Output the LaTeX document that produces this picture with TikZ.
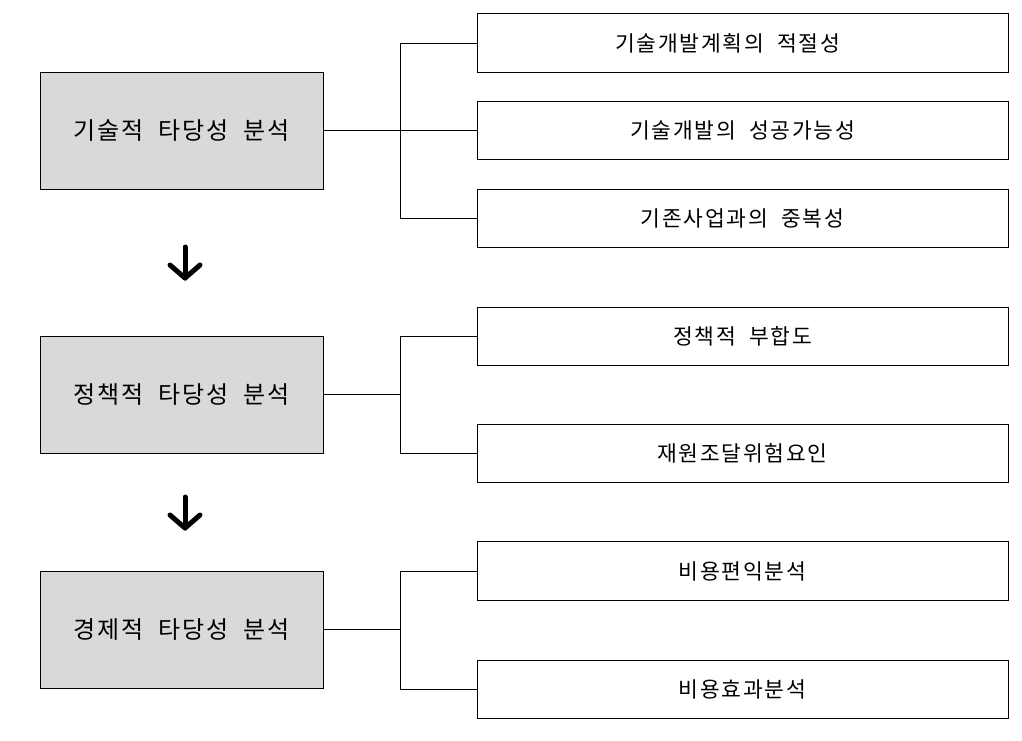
\documentclass[tikz,border=0pt]{standalone}
\usepackage{fontspec}
\setmainfont{Noto Sans CJK KR}
\newfontfamily\krsp[LetterSpace=8]{Noto Sans CJK KR}
\begin{document}
\begin{tikzpicture}[x=1pt,y=-1pt,
  mainbox/.style={draw=black,line width=1pt,fill=boxgray,minimum width=283pt,minimum height=117pt,inner sep=0pt,outer sep=0pt,font=\krsp\fontsize{24}{26}\selectfont},
  subbox/.style={draw=black,line width=1pt,fill=white,minimum width=531pt,minimum height=58.5pt,inner sep=0pt,outer sep=0pt,font=\krsp\fontsize{21.5}{24}\selectfont},
  link/.style={draw=black,line width=1pt},
  bigarrow/.style={draw=black,line width=5pt,line cap=round,line join=round}]
\definecolor{boxgray}{RGB}{217,217,217}
\useasboundingbox (0,0) rectangle (1022,740);
\node[mainbox] (L1) at (181.5,130.5) {기술적 \ 타당성 \ 분석};
\node[mainbox] (L2) at (181.5,394.5) {정책적 \ 타당성 \ 분석};
\node[mainbox] (L3) at (181.5,629.5) {경제적 \ 타당성 \ 분석};
\node[subbox] (R1) at (742.5,43) {기술개발계획의 \ 적절성\hspace*{30pt}};
\node[subbox] (R2) at (742.5,130.5) {기술개발의 \ 성공가능성};
\node[subbox] (R3) at (742.5,218.5) {기존사업과의 \ 중복성};
\node[subbox] (R4) at (742.5,336.5) {정책적 \ 부합도};
\node[subbox] (R5) at (742.5,453.5) {재원조달위험요인};
\node[subbox] (R6) at (742.5,571) {비용편익분석};
\node[subbox] (R7) at (742.5,689.5) {비용효과분석};
\coordinate (J1) at (400,130.5);
\coordinate (J2) at (400,394.5);
\coordinate (J3) at (400,629.5);
\draw[link] (L1.east) -- (J1);
\draw[link] (J1) |- (R1.west);
\draw[link] (J1) -- (R2.west);
\draw[link] (J1) |- (R3.west);
\draw[link] (L2.east) -- (J2);
\draw[link] (J2) |- (R4.west);
\draw[link] (J2) |- (R5.west);
\draw[link] (L3.east) -- (J3);
\draw[link] (J3) |- (R6.west);
\draw[link] (J3) |- (R7.west);
\coordinate (A1s) at (185,247);
\coordinate (A1e) at (185,278);
\coordinate (A1l) at (170,265);
\coordinate (A1r) at (200,265);
\draw[bigarrow] (A1s) -- (A1e);
\draw[bigarrow] (A1l) -- (A1e) -- (A1r);
\coordinate (A2s) at (185,497);
\coordinate (A2e) at (185,528);
\coordinate (A2l) at (170,515);
\coordinate (A2r) at (200,515);
\draw[bigarrow] (A2s) -- (A2e);
\draw[bigarrow] (A2l) -- (A2e) -- (A2r);
\end{tikzpicture}
\end{document}
